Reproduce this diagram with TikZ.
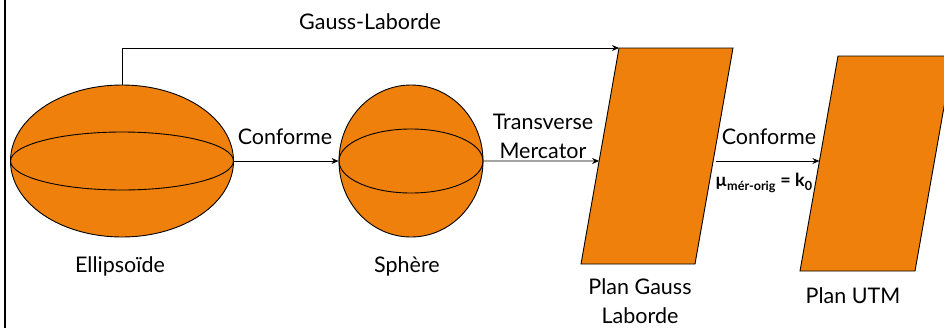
\documentclass[tikz,border=0pt]{standalone}
\usepackage{fontspec}
\setmainfont{Lato}
\usetikzlibrary{shapes.geometric,arrows.meta}
\definecolor{surf}{RGB}{239,128,12}
\tikzset{
  body/.style={ellipse, draw=black, line width=0.9pt, fill=surf, inner sep=0pt},
  belt/.style={draw=black, line width=0.9pt},
  plane/.style={draw=black, line width=0.9pt, fill=surf},
  link/.style={draw=black, line width=0.9pt, -{Stealth[length=7pt,width=6pt]}},
  lbl/.style={font=\fontsize{21.5}{29}\selectfont, align=center, inner sep=0pt},
}
\begin{document}
\begin{tikzpicture}[x=1pt,y=-1pt]
\clip (0,0) rectangle (944,327);
\fill[white] (0,0) rectangle (944,327);
% frame line on the left
\draw[line width=2pt] (5,-2) -- (5,330);

% ellipsoid
\node[body, minimum width=223pt, minimum height=152pt] (ell) at (122,161) {};
\draw[belt] (ell.center) ellipse [x radius=111.5, y radius=29];
% sphere
\node[body, minimum width=144pt, minimum height=152pt] (sph) at (411,161) {};
\draw[belt] (sph.center) ellipse [x radius=72, y radius=32];

% plane Gauss-Laborde
\coordinate (gA) at (619,48);  \coordinate (gB) at (733,48);
\coordinate (gC) at (695,264); \coordinate (gD) at (581,264);
\draw[plane] (gA) -- (gB) -- (gC) -- (gD) -- cycle;
% plane UTM
\coordinate (uA) at (838,56);  \coordinate (uB) at (953,56);
\coordinate (uC) at (915,271); \coordinate (uD) at (800,271);
\draw[plane] (uA) -- (uB) -- (uC) -- (uD) -- cycle;

% connector end points on the plane edges
\coordinate (gIn)  at (intersection of gA--gD and 0,161--944,161);
\coordinate (gOut) at (intersection of gB--gC and 0,161--944,161);
\coordinate (uIn)  at (intersection of uA--uD and 0,161--944,161);
\coordinate (elTop) at (ell.north);
\coordinate (bend) at (elTop |- gA);

% connectors
\draw[link] (elTop) -- (bend) -- (gA);
\draw[link] (ell.east) -- (sph.west);
\draw[link] (sph.east) -- (gIn);
\draw[link] ([xshift=3pt]gOut) -- (uIn);

% labels
\node[lbl] (tGL) at (370,22) {Gauss-Laborde};
\node[lbl] (tC1) at (285,137) {Conforme};
\node[lbl] (tTM) at (543,136) {Transverse\\Mercator};
\node[lbl] (tC2) at (769,137) {Conforme};
\node[lbl, font=\fontsize{18}{20}\bfseries\selectfont] (tMu) at (764,183)
  {µ\textsubscript{mér-orig} = k\textsubscript{0}};
\node[lbl] (tEl) at (120,266) {Ellipsoïde};
\node[lbl] (tSp) at (407,266) {Sphère};
\node[lbl] (tPG) at (640,301) {Plan Gauss\\Laborde};
\node[lbl] (tPU) at (853,296) {Plan UTM};
\end{tikzpicture}
\end{document}
